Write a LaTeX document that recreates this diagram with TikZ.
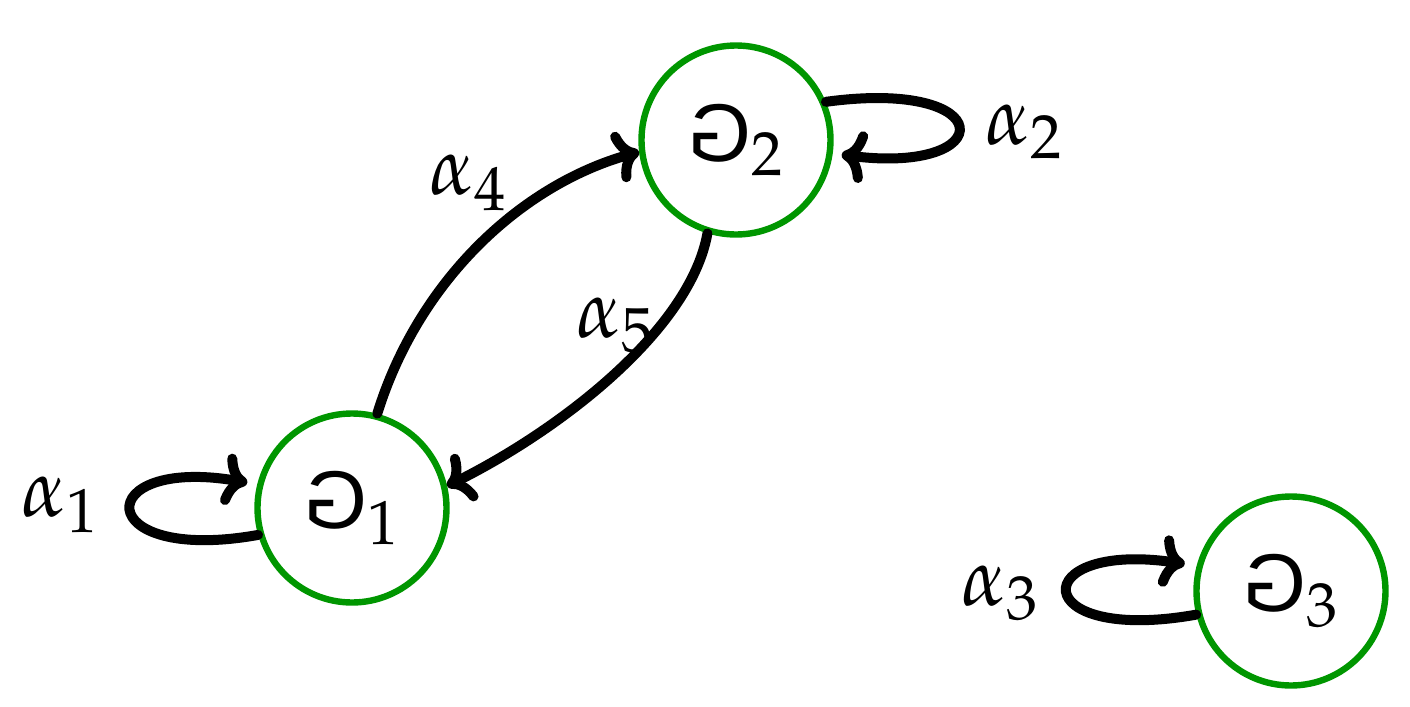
\documentclass[tikz,border=0pt]{standalone}
\usepackage{mathpazo}
\usepackage{fontspec}
\newfontfamily\gfont{Liberation Sans}
\usepackage{graphicx}
\usetikzlibrary{arrows.meta}
\definecolor{nodegreen}{RGB}{0,150,0}
\newcommand{\revG}{\reflectbox{\gfont G}}
\begin{document}
\begin{tikzpicture}[x=0.5pt,y=-0.5pt,
  state/.style={circle,draw=nodegreen,line width=3.2pt,minimum size=94.5pt,inner sep=0pt,font=\fontsize{41}{49}\selectfont},
  lab/.style={font=\fontsize{41}{49}\selectfont,inner sep=0pt},
  edge/.style={line width=5pt,line cap=round,-{Computer Modern Rightarrow[length=12pt,width=26pt,line cap=round]}}]
\useasboundingbox (0,0) rectangle (1410,707);
\node[state] (G1) at (352,508) {$\revG_1$};
\node[state] (G2) at (736,140) {$\revG_2$};
\node[state] (G3) at (1291,591) {$\revG_3$};
% edges between nodes
\draw[edge] (G1.75) .. controls (418,282) and (520,185) .. (G2.187);
\draw[edge] (G2.253) .. controls (690,330) and (560,430) .. (G1.13);
% loops
\draw[edge,shorten >=5pt] (G1.196) .. controls (90,565) and (90,455) .. (G1.166);
\draw[edge,shorten >=4.5pt] (G2.23) .. controls (1000,78) and (1000,175) .. (G2.-8);
\draw[edge,shorten >=6pt] (G3.194) .. controls (1026,645) and (1026,540) .. (G3.165);
% labels
\node[lab] (a1) at (60,505) {$\alpha_1$};
\node[lab] (a2) at (1024,132) {$\alpha_2$};
\node[lab] (a3) at (1000,593) {$\alpha_3$};
\node[lab] (a4) at (468,183) {$\alpha_4$};
\node[lab] (a5) at (615,325) {$\alpha_5$};
\end{tikzpicture}
\end{document}
